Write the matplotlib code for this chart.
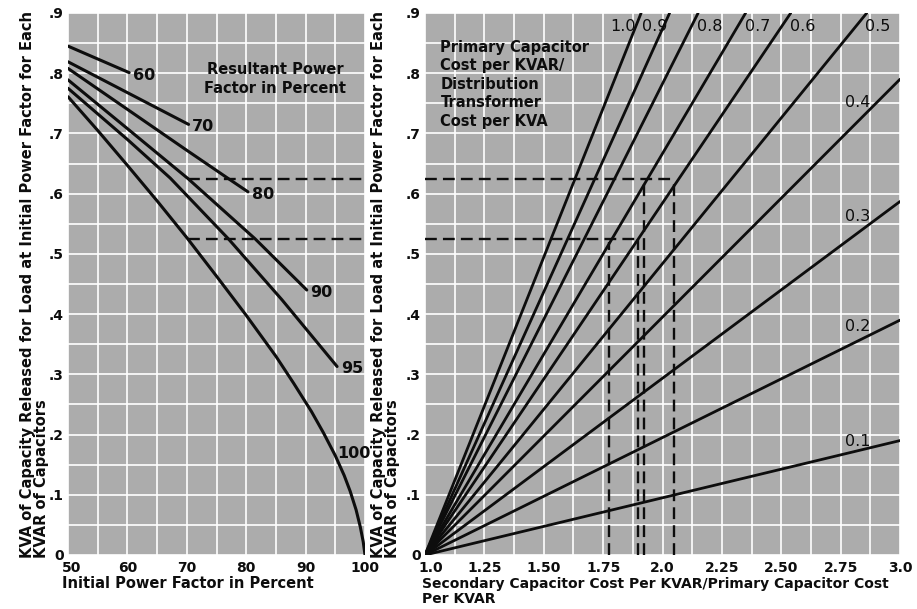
import numpy as np
import matplotlib
matplotlib.use("Agg")
import matplotlib.pyplot as plt
from matplotlib.transforms import ScaledTranslation

plt.rcParams["font.family"] = ["DejaVu Sans"]
plt.rcParams["font.weight"] = "bold"

# ---------------- left chart: capacity released vs. initial power factor
resultant_pf = ["60", "70", "80", "90", "95", "100"]
initial_pf = [
    [50, 60.3],
    [50, 70.3],
    [50, 60, 70, 77, 80.3],
    [50, 60, 70.2, 81.5, 90.2],
    [50, 60, 67.2, 77, 86, 95.3],
    [50, 55, 60, 65, 70, 75, 80, 85, 88, 91, 93, 95, 96.5, 97.5, 98.5, 99.2,
     99.7, 100],
]
kva_released = [
    [0.845, 0.801],
    [0.819, 0.715],
    [0.808, 0.740, 0.672, 0.625, 0.603],
    [0.789, 0.708, 0.625, 0.525, 0.440],
    [0.775, 0.690, 0.626, 0.525, 0.424, 0.313],
    [0.761, 0.705, 0.647, 0.588, 0.527, 0.463, 0.398, 0.330, 0.285, 0.238,
     0.203, 0.165, 0.132, 0.106, 0.075, 0.047, 0.022, 0.0],
]

# ---------------- right chart: fan of cost-ratio lines from (1.0, 0)
cost_ratio = ["1.0", "0.9", "0.8", "0.7", "0.6", "0.5", "0.4", "0.3", "0.2", "0.1"]
line_start = (1.0, 0.0)
line_end_x = [1.91, 2.03, 2.15, 2.35, 2.54, 2.86, 3.0, 3.0, 3.0, 3.0]
line_end_y = [0.90, 0.90, 0.90, 0.90, 0.90, 0.90, 0.79, 0.587, 0.39, 0.19]

# worked examples (dashed construction lines)
example_kva = [0.625, 0.525]
example_initial_pf = 70.2
example_ratio_h = [2.05, 1.895]           # end of horizontal dashes at each level
example_ratio_v = [2.05, 1.92, 1.895, 1.775]
example_v_top = [0.625, 0.62, 0.525, 0.52]

left_xticks = [50, 60, 70, 80, 90, 100]
right_xticks = [1.0, 1.25, 1.5, 1.75, 2.0, 2.25, 2.5, 2.75, 3.0]
right_xticklabels = ["1.0", "1.25", "1.50", "1.75", "2.0", "2.25", "2.50", "2.75", "3.0"]
yticks = [0, .1, .2, .3, .4, .5, .6, .7, .8, .9]
yticklabels = ["0", ".1", ".2", ".3", ".4", ".5", ".6", ".7", ".8", ".9"]

W, H = 917, 609
fig = plt.figure(figsize=(W / 100, H / 100), dpi=100)
fig.patch.set_facecolor("white")

BG = "#acacac"
INK = "#0d0d0d"
DASH = (0, (5, 2.6))


def px_axes(x0, x1, y_top, y_bot):
    return fig.add_axes([x0 / W, (H - y_bot) / H, (x1 - x0) / W, (y_bot - y_top) / H])


def style(ax):
    ax.set_facecolor(BG)
    for s in ax.spines.values():
        s.set_visible(False)
    ax.grid(which="both", color="white", lw=1.2)
    ax.set_axisbelow(True)
    ax.tick_params(which="both", length=0, labelsize=10, colors=INK)
    ax.set_ylim(0, 0.9)
    ax.set_yticks(yticks)
    ax.set_yticklabels(yticklabels)
    ax.set_yticks(np.arange(0, 0.901, 0.05), minor=True)


def nudge_first_xlabel(ax, dx_px):
    lab = ax.get_xticklabels()[0]
    lab.set_transform(lab.get_transform()
                      + ScaledTranslation(dx_px / 100, 0, fig.dpi_scale_trans))


# ---- left panel
ax1 = px_axes(68, 365, 13, 555)
style(ax1)
ax1.set_xlim(50, 100)
ax1.set_xticks(left_xticks)
ax1.set_xticks(np.arange(50, 100.1, 5), minor=True)
ax1.tick_params(axis="x", pad=4)
ax1.tick_params(axis="y", pad=3)
nudge_first_xlabel(ax1, 4)

for lab, xs, ys in zip(resultant_pf, initial_pf, kva_released):
    ax1.plot(xs, ys, color=INK, lw=2.2, solid_capstyle="round", zorder=3)
    if lab == "100":
        ax1.text(95.3, 0.168, lab, fontsize=11.5, color=INK, va="center",
                 ha="left")
    else:
        ax1.text(xs[-1] + 0.6, ys[-1] - 0.004, lab, fontsize=11.5, color=INK,
                 va="center", ha="left")

for lvl in example_kva:
    ax1.plot([example_initial_pf, 100], [lvl, lvl], color=INK, lw=1.7,
             linestyle=DASH, zorder=3, clip_on=False)

ax1.text(84.9, 0.79, "Resultant Power\nFactor in Percent", fontsize=10.5,
         color=INK, ha="center", va="center", linespacing=1.3)

# ---- right panel
ax2 = px_axes(425, 900, 13, 555)
style(ax2)
ax2.set_xlim(1.0, 3.0)
ax2.set_xticks(right_xticks)
ax2.set_xticklabels(right_xticklabels)
ax2.set_xticks(np.arange(1.0, 3.001, 0.125), minor=True)
ax2.tick_params(axis="x", pad=4)
ax2.tick_params(axis="y", pad=3)
nudge_first_xlabel(ax2, 6)

for lab, xe, ye in zip(cost_ratio, line_end_x, line_end_y):
    ax2.plot([line_start[0], xe], [line_start[1], ye], color=INK, lw=2.0,
             solid_capstyle="round", zorder=3)

label_pos = {
    "1.0": (1.835, 0.877), "0.9": (1.968, 0.877), "0.8": (2.20, 0.877),
    "0.7": (2.40, 0.877), "0.6": (2.59, 0.877), "0.5": (2.905, 0.877),
    "0.4": (2.82, 0.752), "0.3": (2.82, 0.562), "0.2": (2.82, 0.379),
    "0.1": (2.82, 0.188),
}
for lab, (lx, ly) in label_pos.items():
    ax2.text(lx, ly, lab, fontsize=11.5, color=INK, ha="center", va="center",
             zorder=4, fontweight="normal")

for lvl, xh in zip(example_kva, example_ratio_h):
    ax2.plot([1.0, xh], [lvl, lvl], color=INK, lw=1.7, linestyle=DASH, zorder=3)
for xv, top in zip(example_ratio_v, example_v_top):
    ax2.plot([xv, xv], [0, top], color=INK, lw=1.7, linestyle=DASH, zorder=3)

ax2.text(1.065, 0.855, "Primary Capacitor\nCost per KVAR/\nDistribution\n"
         "Transformer\nCost per KVA", fontsize=10.5, color=INK, ha="left",
         va="top", linespacing=1.28)

# ---- axis titles
ylab1 = "KVA of Capacity Released for Load at Initial Power Factor for Each"
ylab2 = "KVAR of Capacitors"
for x1, x2 in [(28, 42), (378, 393)]:
    fig.text(x1 / W, (H - 558) / H, ylab1, rotation=90, fontsize=10.5,
             color=INK, ha="center", va="bottom")
    fig.text(x2 / W, (H - 558) / H, ylab2, rotation=90, fontsize=10.5,
             color=INK, ha="center", va="bottom")

fig.text(62 / W, (H - 583) / H, "Initial Power Factor in Percent", fontsize=10.5,
         color=INK, ha="left", va="center")
fig.text(422 / W, (H - 577) / H,
         "Secondary Capacitor Cost Per KVAR/Primary Capacitor Cost\nPer KVAR",
         fontsize=10, color=INK, ha="left", va="top", linespacing=1.1)

fig.savefig("out.png", dpi=100, facecolor="white")
